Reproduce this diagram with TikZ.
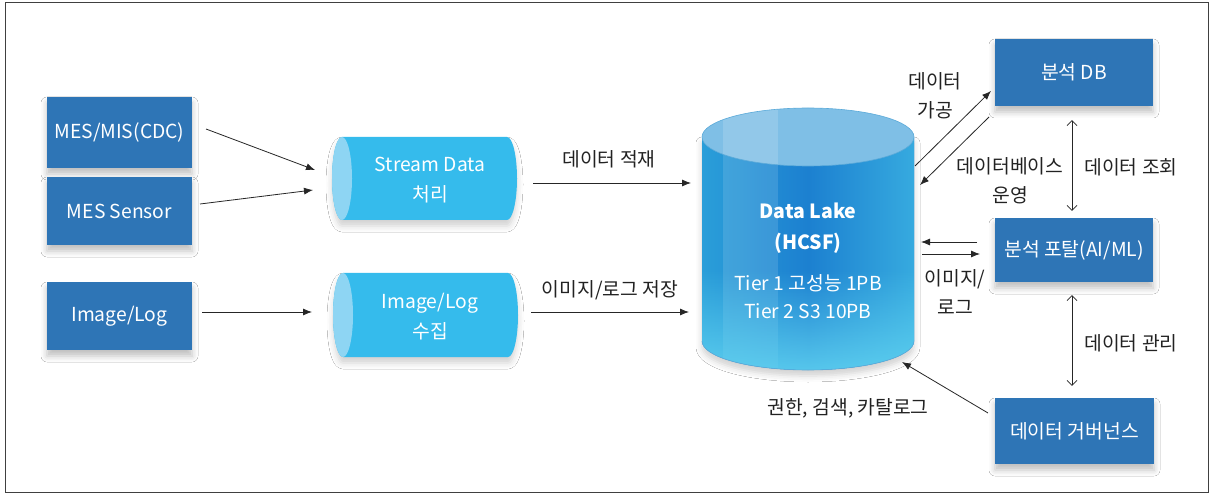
\documentclass[tikz,border=0pt]{standalone}
\usepackage{fontspec}
\setmainfont{Noto Sans CJK KR}
\usetikzlibrary{arrows.meta,shadows.blur,fadings,calc}
\definecolor{boxblue}{HTML}{2E75B6}
\definecolor{cylbody}{HTML}{35BBEC}
\definecolor{cylcap}{HTML}{8ED5F3}
\definecolor{lakeL}{HTML}{2A9ED9}
\definecolor{lakeM}{HTML}{1C80D0}
\definecolor{lakeR}{HTML}{36AADF}
\definecolor{laketop}{HTML}{7FBFE6}
\definecolor{lakeedge}{HTML}{5BAAD9}
\definecolor{lakebot}{HTML}{63D6F2}
\definecolor{lbltext}{HTML}{222222}
\begin{document}
\begin{tikzpicture}[x=1pt,y=-1pt,
  box/.style={fill=boxblue, text=white, font=\fontsize{19.3}{22}\selectfont, inner sep=0pt,
    blur shadow={shadow xshift=0pt, shadow yshift=-6pt, shadow blur radius=6pt, shadow opacity=25}},
  cyltext/.style={text=white, font=\fontsize{19.3}{30}\selectfont, align=center, inner sep=0pt},
  lbl/.style={text=lbltext, font=\fontsize{19.3}{29}\selectfont, align=center, inner sep=0pt},
  arr/.style={-{Latex[length=9pt,width=7pt]}, line width=0.8pt, draw=black!85},
  darr/.style={{Straight Barb[length=5pt,width=10pt]}-{Straight Barb[length=5pt,width=10pt]}, line width=0.7pt, draw=black!85},
  cylshadow/.style={blur shadow={shadow xshift=0pt, shadow yshift=-6pt, shadow blur radius=6pt, shadow opacity=18}}
]
\useasboundingbox (0,0) rectangle (1213,494);
\fill[white] (0,0) rectangle (1213,494);
\draw[line width=1pt, draw=black!75] (5,3) rectangle (1208,492);

% left boxes
\node[box, minimum width=145pt, minimum height=71pt] (mes) at (119.5,132.5) {MES/MIS(CDC)};
\node[box, minimum width=145pt, minimum height=68pt] (sensor) at (119.5,211) {MES Sensor};
\node[box, minimum width=145pt, minimum height=68pt] (imglog) at (119.5,316) {Image/Log};

% horizontal cylinders
\fill[cylbody, cylshadow] (342,137) -- (507,137) arc[start angle=90, end angle=-90, x radius=10pt, y radius=41.5pt]
  -- (342,220) arc[start angle=270, end angle=90, x radius=10pt, y radius=41.5pt] -- cycle;
\fill[cylcap] (342,178.5) ellipse[x radius=10pt, y radius=41.5pt];
\node[cyltext] (stream) at (430,180) {Stream Data\\처리};

\fill[cylbody, cylshadow] (343,273) -- (508,273) arc[start angle=90, end angle=-90, x radius=10pt, y radius=42pt]
  -- (343,357) arc[start angle=270, end angle=90, x radius=10pt, y radius=42pt] -- cycle;
\fill[cylcap] (343,315) ellipse[x radius=10pt, y radius=42pt];
\node[cyltext] (collect) at (430,317) {Image/Log\\수집};

% data lake cylinder
\path[cylshadow, fill=lakeM] (702,137) -- (702,341) arc[start angle=180, end angle=360, x radius=106pt, y radius=29pt] -- (914,137) -- cycle;
\shade[left color=lakeL, right color=lakeR, middle color=lakeM]
  (702,137) -- (702,341) arc[start angle=180, end angle=360, x radius=106pt, y radius=29pt] -- (914,137) -- cycle;
\begin{scope}
  \clip (702,137) -- (702,341) arc[start angle=180, end angle=360, x radius=106pt, y radius=29pt] -- (914,137) -- cycle;
  \fill[white, opacity=0.12] (723,100) rectangle (778,380);
  \fill[lakebot, path fading=north, opacity=0.9] (700,270) rectangle (916,380);
\end{scope}
\draw[lakeedge, line width=0.6pt] (702,341) arc[start angle=180, end angle=360, x radius=106pt, y radius=29pt];
\fill[laketop] (808,137) ellipse[x radius=106pt, y radius=29pt];
\begin{scope}
  \clip (808,137) ellipse[x radius=106pt, y radius=29pt];
  \fill[white, opacity=0.15] (723,100) rectangle (778,170);
\end{scope}
\draw[lakeedge, line width=0.6pt] (808,137) ellipse[x radius=106pt, y radius=29pt];
\node[text=white, font=\bfseries\fontsize{19.5}{31}\selectfont, align=center, inner sep=0pt] (laketitle) at (808,228) {Data Lake\\(HCSF)};
\node[text=white, font=\fontsize{19.3}{28}\selectfont, align=center, inner sep=0pt] (laketier) at (808,297) {Tier 1 고성능 1PB\\Tier 2 S3 10PB};

% right boxes
\node[box, minimum width=158pt, minimum height=67pt] (db) at (1074,72.5) {분석 DB};
\node[box, minimum width=158pt, minimum height=64pt] (portal) at (1074,250) {분석 포탈(AI/ML)};
\node[box, minimum width=159pt, minimum height=66pt] (gov) at (1074.5,431) {데이터 거버넌스};

% connector end points
\coordinate (a1s) at (206,129); \coordinate (a1e) at (315,170);
\coordinate (a2s) at (200,204); \coordinate (a2e) at (313,190);
\coordinate (a3s) at (202,312); \coordinate (a3e) at (312,312);
\coordinate (a4s) at (533,183); \coordinate (a4e) at (691,183);
\coordinate (a5s) at (531,312); \coordinate (a5e) at (689,312);
\coordinate (a6s) at (915,166); \coordinate (a6e) at (991,91);
\coordinate (a7s) at (989,117); \coordinate (a7e) at (920,185);
\coordinate (a8s) at (977,242); \coordinate (a8e) at (921,242);
\coordinate (a9s) at (922,254); \coordinate (a9e) at (980,254);
\coordinate (a12s) at (988,413); \coordinate (a12e) at (902,362);

\draw[arr] (a1s) -- (a1e);
\draw[arr] (a2s) -- (a2e);
\draw[arr] (a3s) -- (a3e);
\draw[arr] (a4s) -- (a4e);
\draw[arr] (a5s) -- (a5e);
\draw[arr] (a6s) -- (a6e);
\draw[arr] (a7s) -- (a7e);
\draw[arr] (a8s) -- (a8e);
\draw[arr] (a9s) -- (a9e);
\draw[arr] (a12s) -- (a12e);
\draw[darr, shorten <=14pt, shorten >=7pt] ([xshift=-2pt]db.south) -- ([xshift=-2pt]portal.north);
\draw[darr, shorten <=13pt, shorten >=12pt] ([xshift=-2pt]portal.south) -- ([xshift=-2.5pt]gov.north);

% labels
\node[lbl] (l1) at (609,159) {데이터 적재};
\node[lbl] (l2) at (610,290) {이미지/로그 저장};
\node[lbl] (l3) at (935,96) {데이터\\가공};
\node[lbl] (l4) at (1010,181) {데이터베이스\\운영};
\node[lbl] (l5) at (1131,167) {데이터 조회};
\node[lbl] (l6) at (955,292) {이미지/\\로그};
\node[lbl] (l7) at (1131,343) {데이터 관리};
\node[lbl] (l8) at (848,408) {권한, 검색, 카탈로그};
\end{tikzpicture}
\end{document}
